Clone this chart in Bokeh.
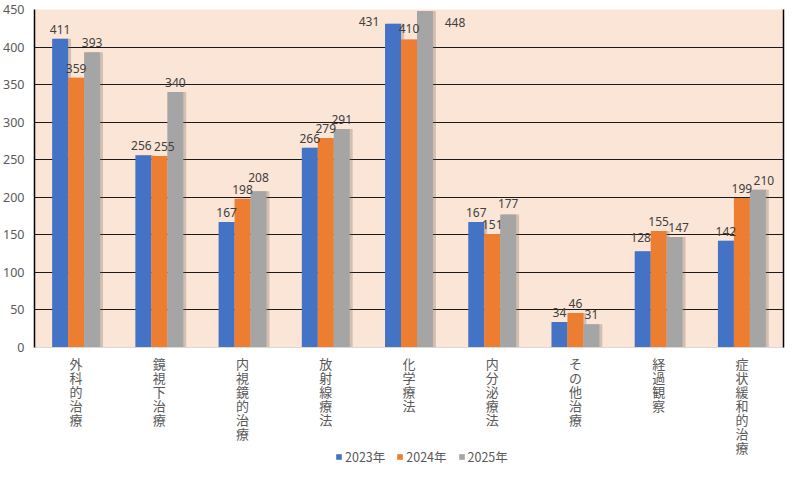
from bokeh.plotting import figure
from bokeh.models import ColumnDataSource, LabelSet, FixedTicker, LinearAxis, Legend, LegendItem, Range1d
from bokeh.layouts import column
from bokeh.core.properties import value
from bokeh.embed import file_html
from bokeh.resources import INLINE

categories = ["外科的治療", "鏡視下治療", "内視鏡的治療", "放射線療法", "化学療法",
              "内分泌療法", "その他治療", "経過観察", "症状緩和的治療"]
series_names = ["2023年", "2024年", "2025年"]
v2023 = [411, 256, 167, 266, 431, 167, 34, 128, 142]
v2024 = [359, 255, 198, 279, 410, 151, 46, 155, 199]
v2025 = [393, 340, 208, 291, 448, 177, 31, 147, 210]
y_ticks = [0, 50, 100, 150, 200, 250, 300, 350, 400, 450]

colors = ["#4472C4", "#ED7D31", "#A5A5A5"]
bar_w = 0.192
offsets = [-bar_w, 0.0, bar_w]
# label offset adjustments (screen px) for crowded labels: (series index, category index) -> (dx, dy)
label_adjust = {(0, 4): (-24, -7), (2, 4): (30, -21), (1, 4): (0, 2), (2, 2): (0, 4), (2, 5): (0, 2),
                (0, 7): (-2, 4), (2, 8): (6, 0), (2, 7): (4, 0), (0, 1): (-2, 0), (1, 1): (5, 0)}

W = 789
p = figure(width=W, height=474, output_backend="svg", toolbar_location=None,
           x_range=Range1d(0, len(categories)), y_range=Range1d(0, 450),
           min_border_left=25, min_border_right=6, min_border_top=9, min_border_bottom=127)
p.background_fill_color = "#FBE5D6"
p.border_fill_color = "white"
p.outline_line_color = None

p.xgrid.grid_line_color = None
p.ygrid.grid_line_color = "#1a1a1a"
p.ygrid.grid_line_width = 1.2
p.ygrid.ticker = FixedTicker(ticks=y_ticks)

p.yaxis.ticker = FixedTicker(ticks=y_ticks)
p.yaxis.axis_line_color = "black"
p.yaxis.axis_line_width = 1.5
p.yaxis.major_tick_line_color = None
p.yaxis.minor_tick_line_color = None
p.yaxis.major_label_text_font = "Noto Sans"
p.yaxis.major_label_text_font_size = "12.5px"
p.yaxis.major_label_text_color = "#595959"
p.yaxis.major_label_standoff = 4

centers = [i + 0.5 for i in range(len(categories))]
p.xaxis.ticker = FixedTicker(ticks=centers)
p.xaxis.major_label_overrides = {c: "\n".join(list(n)) for c, n in zip(centers, categories)}
p.xaxis.axis_line_color = "#D9D9D9"
p.xaxis.axis_line_width = 1
p.xaxis.major_tick_line_color = None
p.xaxis.minor_tick_line_color = None
p.xaxis.major_label_text_font = "Noto Sans CJK JP"
p.xaxis.major_label_text_font_size = "13px"
p.xaxis.major_label_text_color = "#595959"
p.xaxis.major_label_text_line_height = 0.74
p.xaxis.major_label_standoff = 0

right_axis = LinearAxis(ticker=FixedTicker(ticks=[]), axis_line_color="black", axis_line_width=1.5,
                        major_tick_line_color=None, minor_tick_line_color=None,
                        major_tick_out=0, minor_tick_out=0, major_label_standoff=0,
                        axis_label_standoff=0, major_label_text_font_size="0px")
p.add_layout(right_axis, "right")

all_vals = [v2023, v2024, v2025]
for si, vals in enumerate(all_vals):
    xs = [c + offsets[si] for c in centers]
    src = ColumnDataSource(dict(xs=[x + 0.035 for x in xs], top=vals))
    p.vbar(x="xs", top="top", width=bar_w, source=src, fill_color="#6b5a4a",
           fill_alpha=0.28, line_color=None)
for si, vals in enumerate(all_vals):
    xs = [c + offsets[si] for c in centers]
    src = ColumnDataSource(dict(x=xs, top=vals))
    p.vbar(x="x", top="top", width=bar_w, source=src, fill_color=colors[si], line_color=None)

for si, vals in enumerate(all_vals):
    xs = [c + offsets[si] for c in centers]
    dx = [label_adjust.get((si, ci), (0, 0))[0] for ci in range(len(vals))]
    dy = [5 + label_adjust.get((si, ci), (0, 0))[1] for ci in range(len(vals))]
    src = ColumnDataSource(dict(x=xs, y=vals, t=[str(v) for v in vals], dx=dx, dy=dy))
    p.add_layout(LabelSet(x="x", y="y", text="t", source=src, x_offset="dx", y_offset="dy",
                          text_align="center", text_baseline="bottom",
                          text_font=value("Noto Sans"), text_font_size="12px",
                          text_color="#404040"))

# legend strip
lg = figure(width=W, height=20, output_backend="svg", toolbar_location=None,
            x_range=Range1d(0, 1), y_range=Range1d(0, 1), min_border=0,
            styles={"margin-top": "-26px"})
lg.axis.visible = False
lg.grid.grid_line_color = None
lg.outline_line_color = None
lg.background_fill_alpha = 0
lg.border_fill_alpha = 0
items = []
for si in range(3):
    r = lg.vbar(x=[5], top=[0], width=0.1, fill_color=colors[si], line_color=None)
    items.append(LegendItem(label=series_names[si], renderers=[r]))
legend = Legend(items=items, orientation="horizontal", location=(301, 2),
                glyph_width=7, glyph_height=7, label_standoff=3, spacing=11, padding=0, margin=0,
                border_line_color=None, background_fill_alpha=0,
                label_text_font="Noto Sans CJK JP", label_text_font_size="12.5px",
                label_text_color="#595959")
lg.add_layout(legend, "center")

layout = column(p, lg, spacing=0)
open("out.html", "w").write(file_html(layout, INLINE))
